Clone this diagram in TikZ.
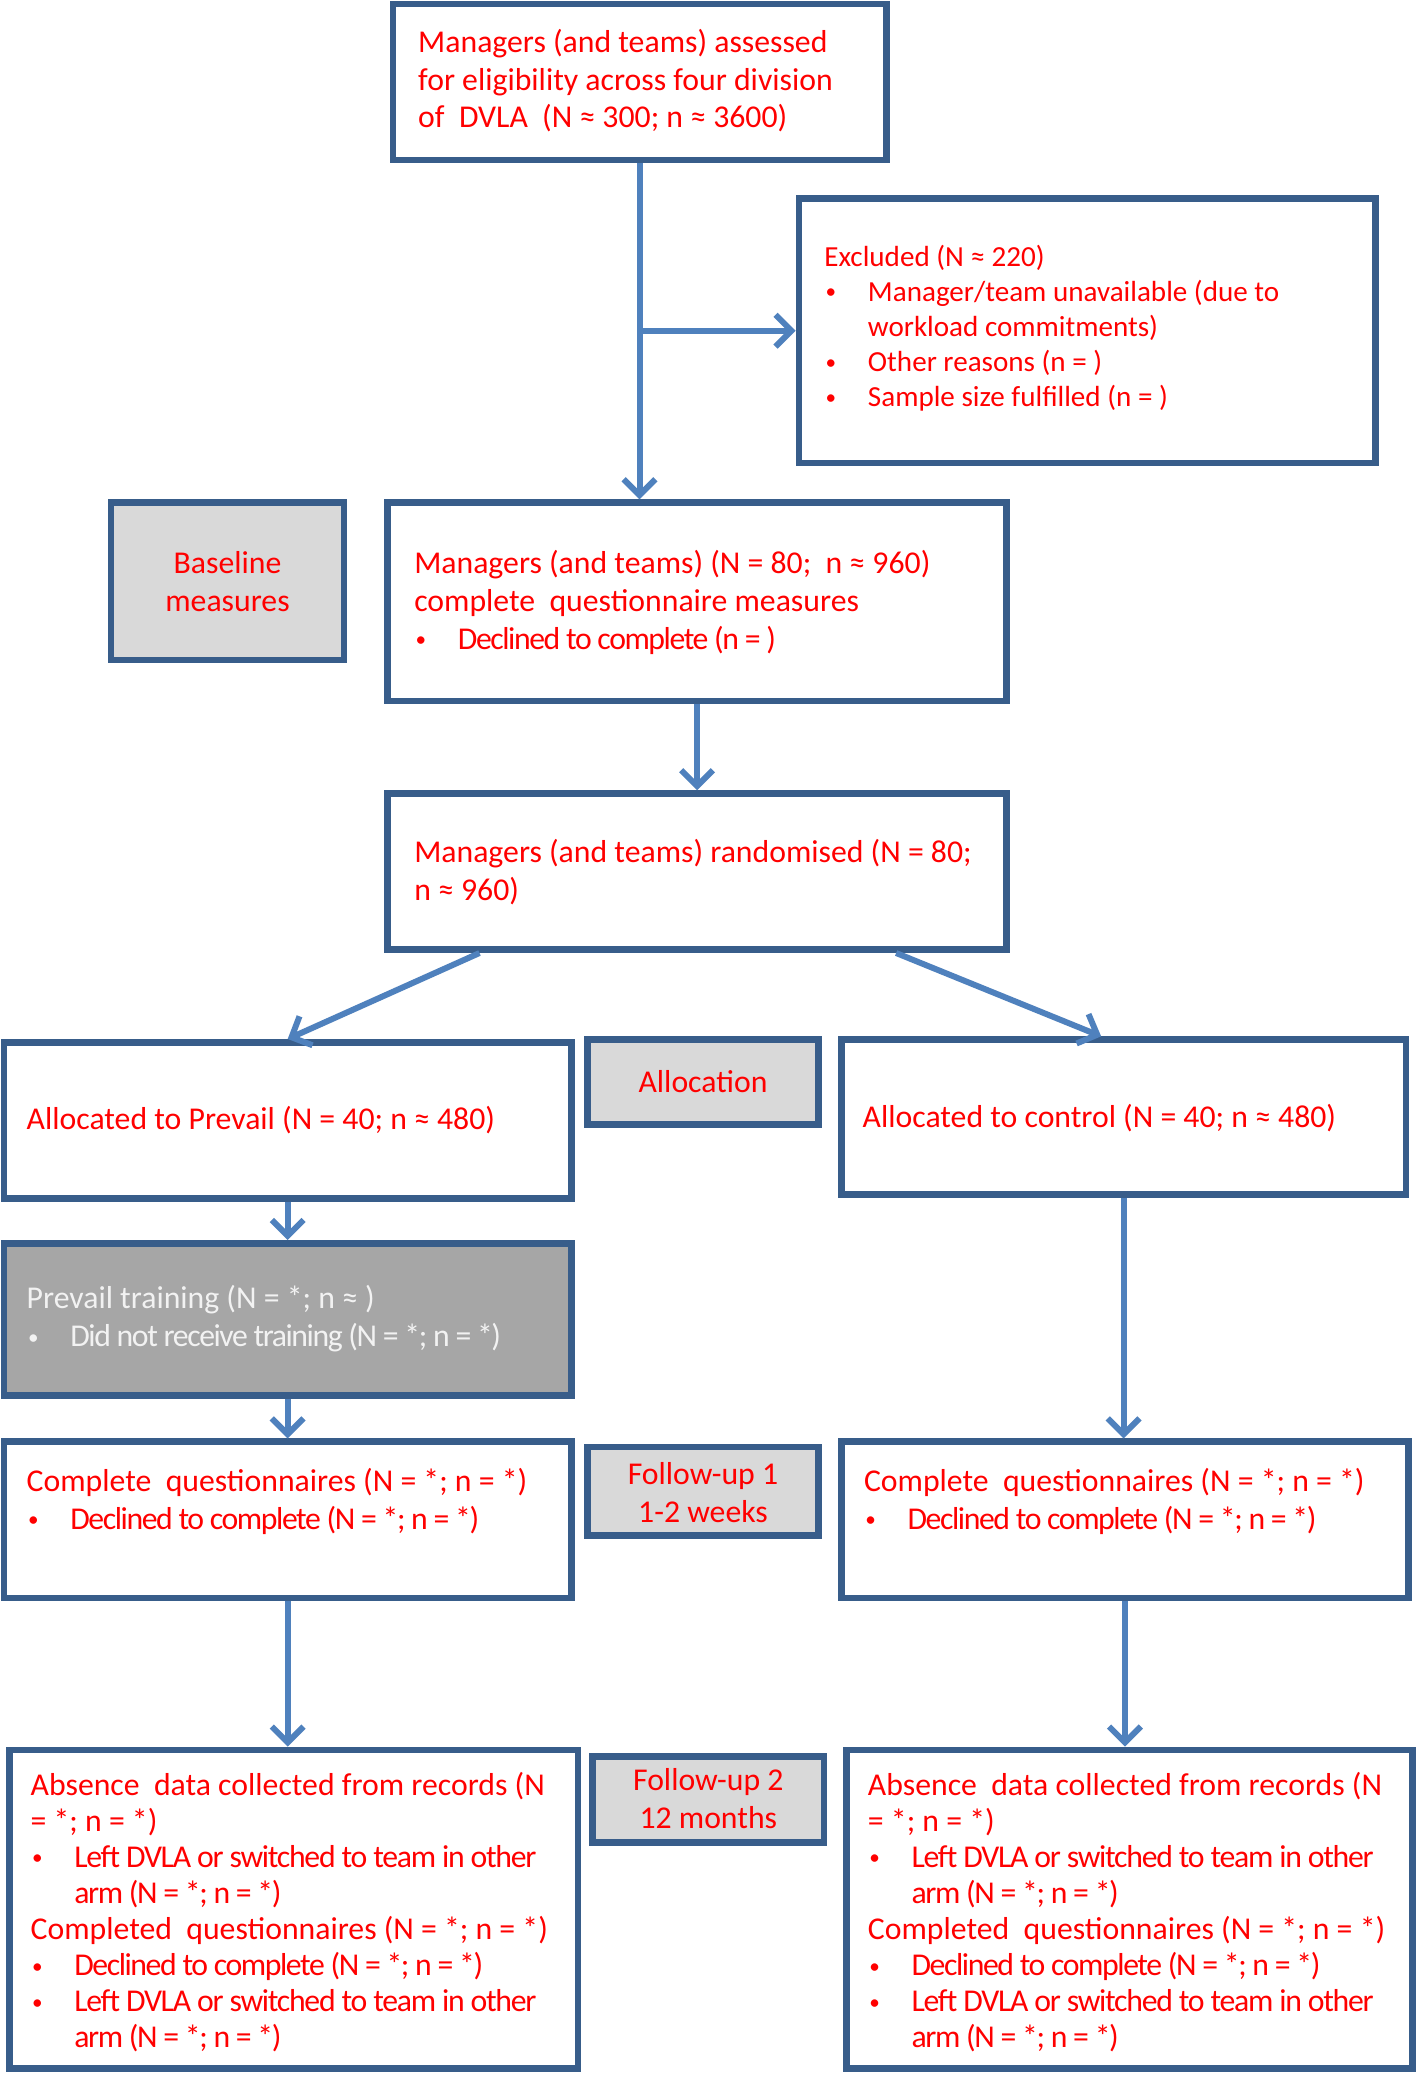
\documentclass[tikz,border=0pt]{standalone}
\usepackage{fontspec}
\setmainfont{Carlito}
\usetikzlibrary{arrows.meta,calc}
\definecolor{bord}{HTML}{385D8A}
\definecolor{arrc}{HTML}{4F81BD}
\definecolor{lgray}{HTML}{D9D9D9}
\definecolor{dgray}{HTML}{A6A6A6}
\definecolor{txtred}{HTML}{FF0000}
\definecolor{txtwhite}{HTML}{F2F2F2}
\newcommand{\smbul}{\raisebox{1.8pt}{\fontsize{16}{16}\selectfont\textbullet}}
\newcommand{\bul}[1]{\makebox[33pt][l]{\hspace*{1pt}\smbul}#1}
\newcommand{\ind}[1]{\hspace*{33pt}#1}
\newcommand{\cond}[1]{{\addfontfeature{LetterSpace=-4.5}#1}}
\newcommand{\condb}[1]{{\addfontfeature{LetterSpace=-4}#1}}
\begin{document}
\begin{tikzpicture}[x=1pt, y=-1pt,
  box/.style={draw=bord, line width=5pt, fill=white, inner sep=0pt, rectangle},
  gbox/.style={box, fill=lgray},
  dbox/.style={box, fill=dgray},
  txt/.style={anchor=west, align=left, inner sep=0pt, text=txtred, font=\fontsize{24}{28.5}\selectfont},
  ctxt/.style={txt, anchor=center, align=center, font=\fontsize{24}{29}\selectfont},
  arr/.style={draw=arrc, line width=4.5pt, -{Straight Barb[length=12pt,width=24pt]}}]
\useasboundingbox (0,0) rectangle (1072,1568);
\fill[white] (0,0) rectangle (1072,1568);

% boxes
\node[box, minimum width=373pt, minimum height=118pt] (top) at (483.5,62) {};
\node[box, minimum width=436pt, minimum height=200pt] (excl) at (822,250) {};
\node[gbox, minimum width=176pt, minimum height=119pt] (base) at (172,439.5) {};
\node[box, minimum width=468pt, minimum height=150pt] (meas) at (527,455) {};
\node[box, minimum width=468pt, minimum height=118pt] (rand) at (527,659) {};
\node[box, minimum width=429pt, minimum height=118pt] (prev) at (217.5,847) {};
\node[gbox, minimum width=175pt, minimum height=64pt] (alloc) at (531.5,818) {};
\node[box, minimum width=427pt, minimum height=117pt] (ctrl) at (849.5,844.5) {};
\node[dbox, minimum width=429pt, minimum height=115pt] (train) at (217.5,997.5) {};
\node[box, minimum width=429pt, minimum height=118pt] (cq1) at (217.5,1149) {};
\node[gbox, minimum width=175pt, minimum height=67pt] (fu1) at (531.5,1127.5) {};
\node[box, minimum width=429pt, minimum height=118pt] (cq2) at (850.5,1149) {};
\node[box, minimum width=430pt, minimum height=241pt] (abs1) at (222,1443.5) {};
\node[gbox, minimum width=175pt, minimum height=65pt] (fu2) at (535.5,1360.5) {};
\node[box, minimum width=428pt, minimum height=241pt] (abs2) at (854,1443.5) {};

% texts
\node[txt] (top-t) at (316,61) {Managers (and teams) assessed\\for eligibility across four division\\of\ \ DVLA\ \ (N ≈ 300; n ≈ 3600)};
\node[txt, font=\fontsize{22}{26.5}\selectfont] (excl-t) at (623,248) {Excluded (N ≈ 220)\\\bul{Manager/team unavailable (due to}\\\ind{workload commitments)}\\\bul{Other reasons (n = )}\\\bul{Sample size fulfilled (n = )}};
\node[ctxt] (base-t) at (172,439.5) {Baseline\\measures};
\node[txt] (meas-t) at (313,455.5) {Managers (and teams) (N = 80;\ \ n ≈ 960)\\complete\ \ questionnaire measures\\\bul{\cond{Declined to complete (n = )}}};
\node[txt] (rand-t) at (313,659.5) {Managers (and teams) randomised (N = 80;\\n ≈ 960)};
\node[txt] (prev-t) at (20,847) {Allocated to Prevail (N = 40; n ≈ 480)};
\node[ctxt] (alloc-t) at (531.5,818) {Allocation};
\node[txt] (ctrl-t) at (652,845) {Allocated to control (N = 40; n ≈ 480)};
\node[txt, text=txtwhite] (train-t) at (20,997) {Prevail training (N = *; n ≈ )\\\bul{\cond{Did not receive training (N = *; n = *)}}};
\node[txt] (cq1-t) at (20,1135) {Complete\ \ questionnaires (N = *; n = *)\\\bul{\cond{Declined to complete (N = *; n = *)}}};
\node[ctxt] (fu1-t) at (531.5,1128.5) {Follow-up 1\\1-2 weeks};
\node[txt] (cq2-t) at (653,1135) {Complete\ \ questionnaires (N = *; n = *)\\\bul{\cond{Declined to complete (N = *; n = *)}}};
\node[txt, font=\fontsize{24}{27.3}\selectfont] (abs1-t) at (23,1445.5) {Absence\ \ data collected from records (N\\= *; n = *)\\\bul{\condb{Left DVLA or switched to team in other}}\\\ind{\cond{arm (N = *; n = *)}}\\Completed\ \ questionnaires (N = *; n = *)\\\bul{\cond{Declined to complete (N = *; n = *)}}\\\bul{\condb{Left DVLA or switched to team in other}}\\\ind{\cond{arm (N = *; n = *)}}};
\node[ctxt] (fu2-t) at (535.5,1360) {Follow-up 2\\12 months};
\node[txt, font=\fontsize{24}{27.3}\selectfont] (abs2-t) at (656,1445.5) {Absence\ \ data collected from records (N\\= *; n = *)\\\bul{\condb{Left DVLA or switched to team in other}}\\\ind{\cond{arm (N = *; n = *)}}\\Completed\ \ questionnaires (N = *; n = *)\\\bul{\cond{Declined to complete (N = *; n = *)}}\\\bul{\condb{Left DVLA or switched to team in other}}\\\ind{\cond{arm (N = *; n = *)}}};

% connectors
\coordinate (br) at (483.5,250);
\draw[arr] (top.south) -- (top.south |- meas.north);
\draw[arr] (br) -- (br -| excl.west);
\draw[arr] (meas.south) -- (rand.north);
\draw[arr] ([xshift=72pt]rand.south west) -- ([xshift=217pt]prev.north west);
\draw[arr] ([xshift=387pt]rand.south west) -- ([xshift=199pt]ctrl.north west);
\draw[arr] (prev.south) -- (train.north);
\draw[arr] (train.south) -- (cq1.north);
\draw[arr] (ctrl.south) -- (ctrl.south |- cq2.north);
\draw[arr] (cq1.south) -- (cq1.south |- abs1.north);
\draw[arr] (cq2.south) -- (cq2.south |- abs2.north);
\end{tikzpicture}
\end{document}
